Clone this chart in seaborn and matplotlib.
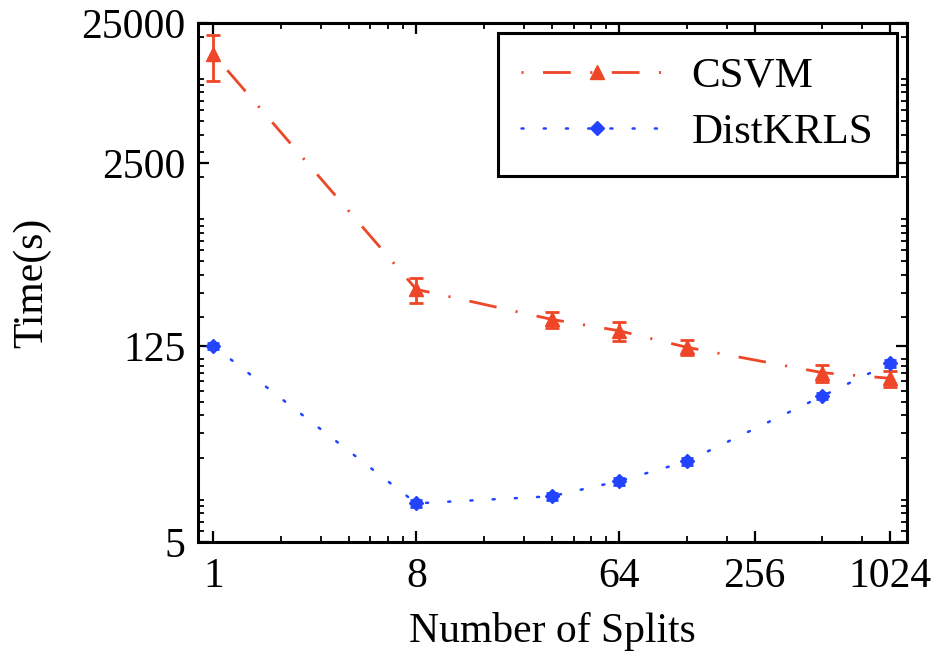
import numpy as np
import pandas as pd
import seaborn as sns
import matplotlib
matplotlib.use("Agg")
from matplotlib import pyplot as plt
from matplotlib.ticker import FixedLocator, LogLocator, NullFormatter

# values
splits = [1, 8, 32, 64, 128, 512, 1024]
csvm = [15040, 316, 193, 160, 122, 80.5, 73.4]
csvm_err = [5450, 63, 25, 24, 15, 11, 9.5]
distkrls = [125, 9.43, 10.6, 13.6, 18.8, 54.9, 93.9]
distkrls_err = [7, 0.6, 0.6, 0.8, 1.1, 3.0, 5.5]

x_ticks = [1, 8, 64, 256, 1024]
x_minor = [2, 3, 4, 5, 6, 7, 16, 24, 32, 40, 48, 56, 128, 192, 512, 768]
y_ticks = [5, 125, 2500, 25000]

red = "#EE4626"
blue = "#2244FF"

sns.set_style("ticks")
plt.rcParams["font.family"] = ["Liberation Serif", "DejaVu Serif"]
plt.rcParams["lines.scale_dashes"] = False
plt.rcParams["text.color"] = "black"
plt.rcParams["axes.labelcolor"] = "black"
plt.rcParams["xtick.color"] = "black"
plt.rcParams["ytick.color"] = "black"

fig = plt.figure(figsize=(9.37, 6.57), dpi=100)
ax = fig.add_axes([0.2113, 0.175, 0.7572, 0.79])

df = pd.DataFrame({"splits": splits, "csvm": csvm, "distkrls": distkrls})

sns.lineplot(data=df, x="splits", y="csvm", ax=ax, color=red, lw=2.0,
             linestyle=(0, (1.5, 14, 20, 14)), marker="^", markersize=10,
             markeredgecolor=red, markeredgewidth=1, label="CSVM", zorder=3)
ax.errorbar(splits, csvm, yerr=csvm_err, fmt="none", ecolor=red,
            elinewidth=2, capsize=5, capthick=2, zorder=3)

sns.lineplot(data=df, x="splits", y="distkrls", ax=ax, color=blue, lw=1.8,
             linestyle=(0, (1.5, 14.5)), dash_capstyle="round", marker="D",
             markersize=7.5, markeredgecolor=blue, markeredgewidth=1,
             label="DistKRLS", zorder=4)
ax.errorbar(splits, distkrls, yerr=distkrls_err, fmt="none", ecolor=blue,
            elinewidth=2, capsize=4, capthick=2, zorder=4)

ax.set_xscale("log", base=2)
ax.set_yscale("log")
ax.set_xlim(0.855, 1223)
ax.set_ylim(5, 25000)

ax.xaxis.set_major_locator(FixedLocator(x_ticks))
ax.xaxis.set_minor_locator(FixedLocator(x_minor))
ax.set_xticklabels([str(t) for t in x_ticks])
ax.xaxis.set_minor_formatter(NullFormatter())
ax.yaxis.set_major_locator(FixedLocator(y_ticks))
ax.yaxis.set_minor_locator(LogLocator(base=10, subs=np.arange(1, 10)))
ax.set_yticklabels([str(t) for t in y_ticks])
ax.yaxis.set_minor_formatter(NullFormatter())

ax.tick_params(which="both", direction="in", top=True, right=True,
               colors="black", labelcolor="black", labelsize=30)
ax.tick_params(which="major", length=8, width=1.6)
ax.tick_params(which="minor", length=4.5, width=1.3)
ax.tick_params(axis="x", pad=11)
ax.tick_params(axis="y", pad=9)

for s in ax.spines.values():
    s.set_visible(True)
    s.set_color("black")
    s.set_linewidth(2.2)

ax.set_xlabel("Number of Splits", fontsize=30, color="black")
ax.set_ylabel("Time(s)", fontsize=30, color="black")
ax.xaxis.set_label_coords(0.5, -0.135)
ax.yaxis.set_label_coords(-0.207, 0.5)

leg = ax.legend(loc="upper right", bbox_to_anchor=(0.985, 0.981),
                borderaxespad=0, fontsize=31, frameon=True, fancybox=False,
                framealpha=1, edgecolor="black", handlelength=3.5,
                handletextpad=0.45, labelspacing=0.4, borderpad=0.55)
leg.get_frame().set_linewidth(2.2)
for t in leg.get_texts():
    t.set_color("black")

fig.savefig("out.png", dpi=100)
